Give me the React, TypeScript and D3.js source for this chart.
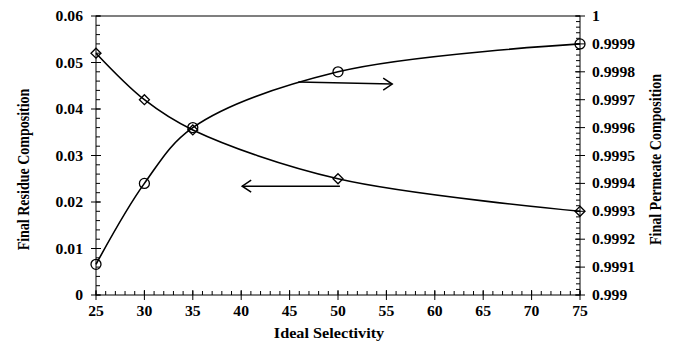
import React from 'react';
import * as d3 from 'd3';

const selectivity = [25, 30, 35, 50, 75];
const residue = [0.052, 0.042, 0.0355, 0.025, 0.018];
const permeate = [0.99911, 0.9994, 0.9996, 0.9998, 0.9999];

const xTicks = [25, 30, 35, 40, 45, 50, 55, 60, 65, 70, 75];
const leftTicks = [0, 0.01, 0.02, 0.03, 0.04, 0.05, 0.06];
const rightTicks = [0.999, 0.9991, 0.9992, 0.9993, 0.9994, 0.9995, 0.9996, 0.9997, 0.9998, 0.9999, 1];

// annotation arrows, in data units
const permeateArrow = { x1: 45.9, x2: 55.6, y1: 0.999763, y2: 0.999756 };
const residueArrow = { x1: 50.2, x2: 40.1, y: 0.0234 };

const W = 676;
const H = 343;
const margin = { top: 16, right: 96, bottom: 48, left: 96 };
const font = '"Liberation Serif", "Times New Roman", serif';
const stretch = 1.12; // the source image is a bit wider than tall

export default function App() {
  const x = d3.scaleLinear().domain([25, 75]).range([margin.left, W - margin.right]);
  const yL = d3.scaleLinear().domain([0, 0.06]).range([H - margin.bottom, margin.top]);
  const yR = d3.scaleLinear().domain([0.999, 1]).range([H - margin.bottom, margin.top]);

  const resPts = selectivity.map((s, i) => [x(s), yL(residue[i])] as [number, number]);
  const perPts = selectivity.map((s, i) => [x(s), yR(permeate[i])] as [number, number]);
  const line = d3.line().curve(d3.curveCatmullRom.alpha(0.5));

  const x0 = x(25), x1 = x(75), yb = yL(0), yt = yL(0.06);
  const xMinor = d3.range(25, 75.01, 1);
  const lMinor = d3.range(0, 0.0601, 0.002);
  const rMinor = d3.range(0, 50.5, 1).map(k => 0.999 + k * 0.00002);

  const arrowHead = (px: number, py: number, dir: number) =>
    `M${px - dir * 9},${py - 6}L${px},${py}L${px - dir * 9},${py + 6}`;

  const ua = {
    x1: x(permeateArrow.x1), y1: yR(permeateArrow.y1),
    x2: x(permeateArrow.x2), y2: yR(permeateArrow.y2),
  };
  const la = { x1: x(residueArrow.x1), x2: x(residueArrow.x2), y: yL(residueArrow.y) };

  const Label = ({ px, py, anchor, size, children }: any) => (
    <text transform={`translate(${px},${py}) scale(${stretch},1)`} textAnchor={anchor} fontSize={size}>
      {children}
    </text>
  );

  return (
    <svg width={W} height={H} style={{ position: 'absolute', left: 0, top: 0, background: '#fff' }}
      fontFamily={font} fontWeight="bold">
      {/* frame */}
      <rect x={x0} y={yt} width={x1 - x0} height={yb - yt} fill="none" stroke="#000" strokeWidth={1} />

      {/* x ticks */}
      {xMinor.map(v => (
        <line key={'xm' + v} x1={x(v)} x2={x(v)} y1={yb} y2={yb - 4} stroke="#000" />
      ))}
      {xTicks.map(v => (
        <g key={'x' + v}>
          <line x1={x(v)} x2={x(v)} y1={yb - 5} y2={yb + 5} stroke="#000" />
          <Label px={x(v)} py={yb + 21} anchor="middle" size={14}>{v}</Label>
        </g>
      ))}

      {/* left ticks */}
      {lMinor.map(v => (
        <line key={'lm' + v} x1={x0} x2={x0 + 4} y1={yL(v)} y2={yL(v)} stroke="#000" />
      ))}
      {leftTicks.map(v => (
        <g key={'l' + v}>
          <line x1={x0 - 5} x2={x0 + 5} y1={yL(v)} y2={yL(v)} stroke="#000" />
          <Label px={x0 - 13} py={yL(v) + 5} anchor="end" size={14}>{v}</Label>
        </g>
      ))}

      {/* right ticks */}
      {rMinor.map((v, i) => (
        <line key={'rm' + i} x1={x1} x2={x1 - 4} y1={yR(v)} y2={yR(v)} stroke="#000" />
      ))}
      {rightTicks.map(v => (
        <g key={'r' + v}>
          <line x1={x1 - 5} x2={x1 + 5} y1={yR(v)} y2={yR(v)} stroke="#000" />
          <Label px={x1 + 12} py={yR(v) + 5} anchor="start" size={14}>{v}</Label>
        </g>
      ))}

      {/* axis titles */}
      <Label px={(x0 + x1) / 2 - 9} py={H - 5} anchor="middle" size={14.5}>Ideal Selectivity</Label>
      <text transform={`translate(29,${(yt + yb) / 2 + 14}) rotate(-90) scale(1,${stretch})`}
        textAnchor="middle" fontSize={14}>
        Final  Residue Composition
      </text>
      <text transform={`translate(661,${(yt + yb) / 2 + 4}) rotate(-90) scale(1,${stretch})`}
        textAnchor="middle" fontSize={14}>
        Final  Permeate Composition
      </text>

      {/* series */}
      <path d={line(resPts) || ''} fill="none" stroke="#000" strokeWidth={1.6} />
      <path d={line(perPts) || ''} fill="none" stroke="#000" strokeWidth={1.6} />
      {resPts.map(([px, py], i) => (
        <path key={'d' + i} d={`M${px},${py - 5}L${px + 5},${py}L${px},${py + 5}L${px - 5},${py}Z`}
          fill="none" stroke="#000" strokeWidth={1.3} />
      ))}
      {perPts.map(([px, py], i) => (
        <circle key={'c' + i} cx={px} cy={py} r={5} fill="none" stroke="#000" strokeWidth={1.3} />
      ))}

      {/* arrows */}
      <line x1={ua.x1} y1={ua.y1} x2={ua.x2} y2={ua.y2} stroke="#000" strokeWidth={1.5} />
      <path d={arrowHead(ua.x2, ua.y2, 1)} fill="none" stroke="#000" strokeWidth={1.5} />
      <line x1={la.x1} y1={la.y} x2={la.x2} y2={la.y} stroke="#000" strokeWidth={1.5} />
      <path d={arrowHead(la.x2, la.y, -1)} fill="none" stroke="#000" strokeWidth={1.5} />
    </svg>
  );
}
